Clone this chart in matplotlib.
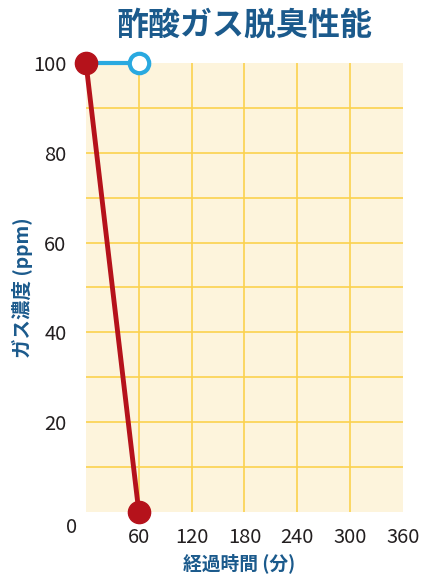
import matplotlib
matplotlib.use('Agg')
import matplotlib.pyplot as plt

# 字体设置
plt.rcParams['font.family'] = ['Noto Sans CJK JP', 'DejaVu Sans']

# データ
title = '酢酸ガス脱臭性能'
x_label = '経過時間 (分)'
y_label = 'ガス濃度 (ppm)'
x_ticks = [60, 120, 180, 240, 300, 360]
y_ticks = [20, 40, 60, 80, 100]
x_grid = [60, 120, 180, 240, 300]
y_grid = [10, 20, 30, 40, 50, 60, 70, 80, 90]

# 酢酸ガス濃度（赤）と空試験（青）
red_time = [0, 60]
red_ppm = [100, 0]
blue_time = [0, 60]
blue_ppm = [100, 100]

label_blue = '#1b5a8c'
text_dark = '#231f20'

fig = plt.figure(figsize=(4.23, 5.78), dpi=100)
ax = fig.add_axes([0.2033, 0.1142, 0.7494, 0.7768])
ax.set_facecolor('#fdf4dc')

for gx in x_grid:
    ax.axvline(gx, color='#fbd24e', lw=1.2, zorder=1)
for gy in y_grid:
    ax.axhline(gy, color='#fbd24e', lw=1.2, zorder=1)

ax.plot(blue_time, blue_ppm, color='#29a9e0', lw=3, zorder=3, clip_on=False)
ax.plot(blue_time[-1:], blue_ppm[-1:], 'o', ms=14, mfc='white', mec='#29a9e0',
        mew=3, zorder=4, clip_on=False)
ax.plot(red_time, red_ppm, color='#b5121b', lw=3.5, zorder=5, clip_on=False)
ax.plot(red_time, red_ppm, 'o', ms=16, color='#b5121b', zorder=6, clip_on=False)

ax.set_xlim(0, 360)
ax.set_ylim(0, 100)
ax.set_xticks(x_ticks)
ax.set_yticks(y_ticks)
ax.tick_params(length=0, labelsize=14.5, colors=text_dark)
ax.tick_params(axis='y', pad=14)
ax.tick_params(axis='x', pad=11)
for s in ax.spines.values():
    s.set_visible(False)

ax.text(-0.045, -0.035, '0', transform=ax.transAxes, fontsize=14.5, color=text_dark,
        ha='center', va='center')

fig.text(0.578, 0.955, title, fontsize=23, fontweight='bold', color=label_blue,
         ha='center', va='center')
fig.text(0.565, 0.026, x_label, fontsize=13.5, fontweight='bold', color=label_blue,
         ha='center', va='center')
fig.text(0.052, 0.503, y_label, fontsize=14, fontweight='bold', color=label_blue,
         ha='center', va='center', rotation=90)

fig.savefig('out.png', dpi=100)
